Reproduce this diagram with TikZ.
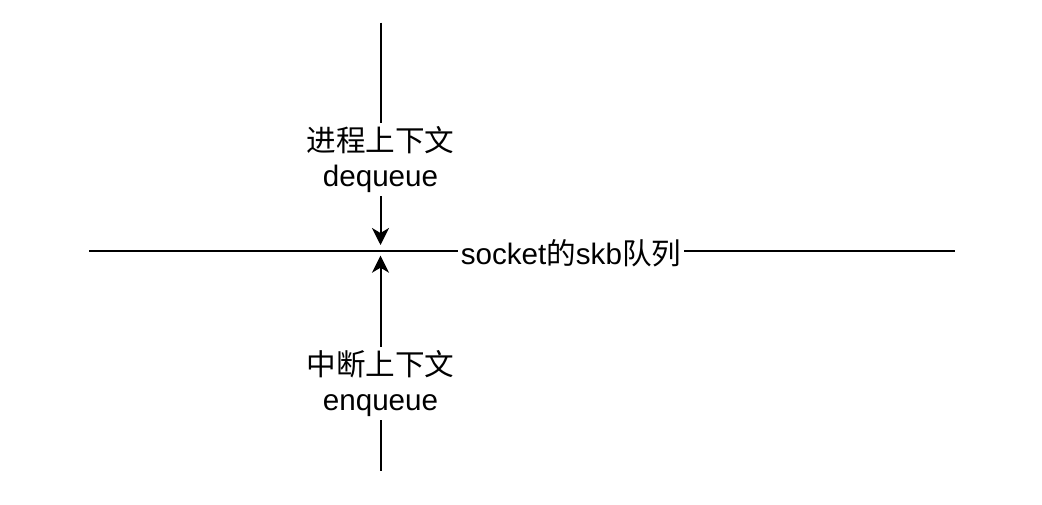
\documentclass[tikz,border=0pt]{standalone}
\usepackage{fontspec}
\setmainfont{Liberation Sans}
\newfontfamily\cjk{Noto Sans CJK SC}
\usetikzlibrary{arrows.meta}
\begin{document}
\begin{tikzpicture}[x=1pt,y=-1pt,
  wire/.style={line width=2pt,black},
  arr/.style={wire,-{Stealth[length=17pt,width=17pt,inset=5pt]}},
  ctxlabel/.style={inner sep=0pt,minimum height=73pt,align=center,
    font=\fontsize{29.6}{35.5}\selectfont},
  qlabel/.style={inner xsep=3pt,inner ysep=0pt,text height=26.6pt,text depth=0pt,
    font=\fontsize{29.6}{35.5}\selectfont}]
\useasboundingbox (0,0) rectangle (1042,504);
% horizontal queue line
\coordinate (hl) at (89.3,250.7);
\coordinate (hr) at (955,250.7);
\node[qlabel] (q) at (571,250.7) {socket{\cjk 的}skb{\cjk 队列}};
\draw[wire] (hl) -- (q.west);
\draw[wire] (q.east) -- (hr);
% top: process context
\coordinate (ttop) at (380.5,22.7);
\coordinate (ttip) at (380.5,245);
\node[ctxlabel] (pctx) at (380.5,159.5) {{\cjk 进程上下文}\\dequeue};
\draw[wire] (ttop) -- (pctx.north);
\draw[arr] (pctx.south) -- (ttip);
% bottom: interrupt context
\coordinate (bbot) at (380.5,470.7);
\coordinate (btip) at (380.5,255.7);
\node[ctxlabel] (ictx) at (380.5,383.5) {{\cjk 中断上下文}\\enqueue};
\draw[wire] (bbot) -- (ictx.south);
\draw[arr] (ictx.north) -- (btip);
\end{tikzpicture}
\end{document}
